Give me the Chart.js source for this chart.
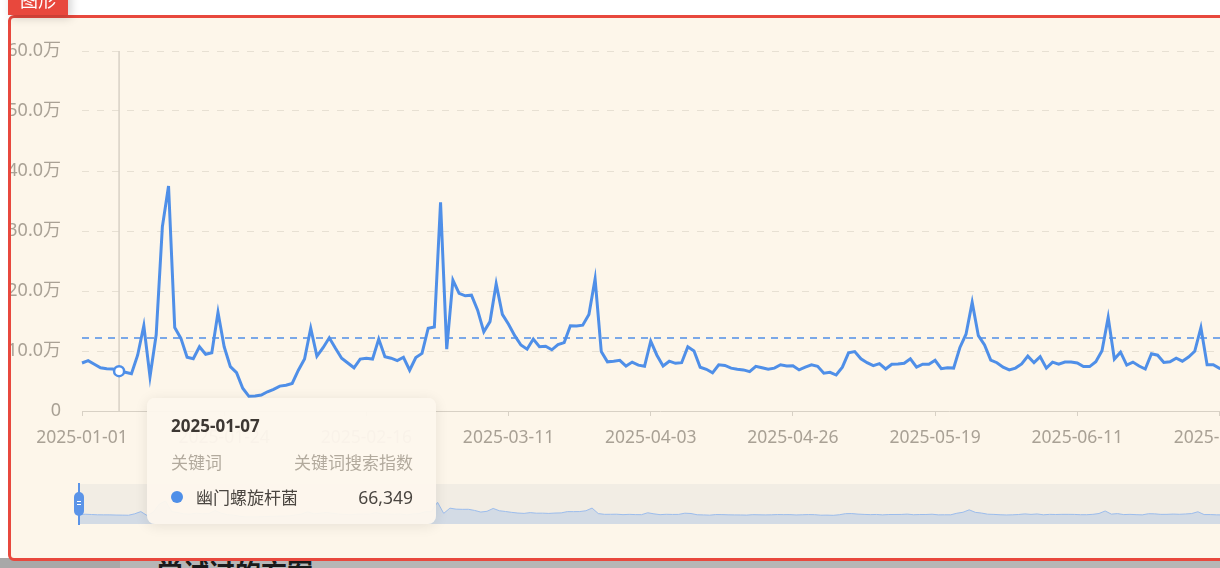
<!DOCTYPE html>
<html lang="zh-CN">
<head>
<meta charset="utf-8">
<title>关键词搜索指数</title>
<script src="https://cdn.jsdelivr.net/npm/chart.js@4.4.1/dist/chart.umd.min.js"></script>
<style>
  html, body { margin: 0; padding: 0; }
  body {
    width: 1220px; height: 568px; overflow: hidden; position: relative; background: #fff;
    font-family: "Noto Sans", "Noto Sans CJK SC", sans-serif;
  }
  .tab {
    position: absolute; left: 8px; top: -15px; width: 60px; height: 30px; z-index: 3;
    background: #e8483d; color: #fff; font-size: 18px; line-height: 30px; text-align: center;
    box-shadow: 3px 3px 10px rgba(0, 0, 0, 0.18);
  }
  .panel {
    position: absolute; left: 8px; top: 15px; width: 1260px; height: 540px; z-index: 2;
    border: 3px solid #e8483d; border-radius: 6px; background: #fdf6ea; overflow: hidden;
  }
  .main { position: absolute; left: -11px; top: 0; }
  .slider { position: absolute; left: 68px; top: 466px; width: 1200px; height: 40px; background: #f2ede4; }
  .zline { position: absolute; left: 67px; top: 465px; width: 2px; height: 42px; background: #5b94e8; }
  .zhandle {
    position: absolute; left: 63px; top: 474px; width: 10px; height: 24px; border-radius: 5px; background: #5b94e8;
  }
  .zhandle::after {
    content: ""; position: absolute; left: 3px; top: 9px; width: 4px; height: 2px;
    border-top: 1px solid #fff; border-bottom: 1px solid #fff;
  }
  .below { position: absolute; left: 0; top: 558px; width: 1220px; height: 10px; background: #b6b6b6; z-index: 0; }
  .below .side { position: absolute; left: 0; top: 0; width: 120px; height: 10px; background: #a8a8a8; }
  .note {
    position: absolute; left: 157px; top: 556px; z-index: 1;
    font-size: 26px; line-height: 30px; font-weight: bold; color: #1a1a1a;
    font-family: "Noto Sans CJK SC", sans-serif;
  }
  .tip {
    position: absolute; z-index: 5; width: 289px; box-sizing: border-box; padding: 16px 23px 15px 24px;
    background: rgba(253, 247, 237, 0.95); border-radius: 8px; box-shadow: 0 2px 14px rgba(0, 0, 0, 0.09);
    font-size: 17px; line-height: 24px; display: none;
  }
  .tip .title { font-weight: bold; color: #3d3833; }
  .tip .head { display: flex; justify-content: space-between; color: #b2aa9d; margin-top: 12px; font-family: "Noto Sans CJK SC", sans-serif; }
  .tip .row { display: flex; align-items: center; color: #4a4540; margin-top: 11px; }
  .tip .dot { width: 12px; height: 12px; border-radius: 6px; background: #4f8fe8; margin-right: 13px; }
  .tip .name { flex: 1; font-family: "Noto Sans CJK SC", sans-serif; }
  .tip .val { font-size: 17.5px; }
</style>
</head>
<body>
<div class="tab">图形</div>
<div class="panel">
  <div class="main"><canvas id="trend" width="1290" height="440"></canvas></div>
  <div class="slider"><canvas id="preview" width="1156" height="40"></canvas></div>
  <div class="zline"></div>
  <div class="zhandle"></div>
</div>
<div class="below"><div class="side"></div></div>
<div class="note">尝试过的方案</div>
<div class="tip" id="tip"></div>

<script>
const seriesName = "幽门螺旋杆菌";
const startDate = "2025-01-01";

// daily search index, one array per month
const jan = [80000, 84000, 78000, 72000, 70500, 70000, 66349, 64500, 62000, 93000,
  142000, 57000, 127000, 307000, 375000, 139000, 121000, 89500, 87000, 107000,
  94500, 97000, 164500, 107000, 74000, 64000, 38000, 24500, 25000, 26500, 32000];
const feb = [36000, 41500, 43000, 46000, 68000, 86500, 138000, 91500, 105500,
  122000, 104500, 88000, 80000, 72000, 86500, 88000, 86500, 120000, 90500,
  88000, 84000, 89500, 68000, 89000, 96000, 138000, 140000, 348000];
const mar = [103000, 218000, 196000, 192000, 193000, 168000, 132000, 149000, 212000, 161000, 144500,
  125500, 110000, 103000, 120000, 107000, 108000, 102000, 110500, 114000, 142000,
  141500, 143000, 161000, 220000, 99000, 82000, 83000, 84500, 75000, 81500];
const apr = [76500, 74500, 116500, 93000, 75000, 83000, 79500, 80500, 107000, 100000,
  73000, 69500, 63500, 77000, 76000, 71500, 69500, 68500, 65500, 74500,
  72000, 69500, 71500, 77000, 75000, 75500, 68500, 73000, 77000, 74500];
const may = [63000, 64500, 60000, 73000, 97000, 99000, 87000, 80500, 75500, 79000,
  70000, 78000, 78500, 79500, 87000, 73000, 78000, 78000, 84500, 70500,
  72000, 71500, 105500, 128000, 181000, 125500, 110000, 85000, 80500, 73000, 68500];
const jun = [71500, 78500, 91500, 80500, 90500, 71500, 81500, 78000, 81500,
  81500, 80000, 74000, 74000, 82000, 100500, 156000, 86500, 98000, 76500,
  81500, 75000, 70000, 95500, 93000, 81000, 82000, 88000, 83000, 90000, 99500];
const jul = [139000, 77000, 77000, 71000, 69000, 72000, 74000];

const values = [...jan, ...feb, ...mar, ...apr, ...may, ...jun, ...jul];

const tickLabels = ["2025-01-01", "2025-01-24", "2025-02-16", "2025-03-11", "2025-04-03",
  "2025-04-26", "2025-05-19", "2025-06-11", "2025-07-04"];

const averageLine = 121700;
const hoverDate = "2025-01-07";

// one label per day
const dates = [];
const d0 = new Date(startDate + "T00:00:00Z");
for (let i = 0; i < values.length; i++) {
  const d = new Date(d0.getTime() + i * 86400000);
  dates.push(d.toISOString().slice(0, 10));
}

const lineColor = "#4f8fe8";
const labelColor = "#a9a195";
const axisColor = "#d8d1c5";
const gridColor = "#e7e0d3";
const fontFamily = '"Noto Sans", "Noto Sans CJK SC", sans-serif';

const guides = {
  id: "guides",
  beforeDatasetsDraw(chart) {
    const { ctx, chartArea } = chart;
    ctx.save();
    const active = chart.tooltip.getActiveElements();
    if (active.length) {
      const x = active[0].element.x;
      ctx.strokeStyle = axisColor;
      ctx.lineWidth = 1.5;
      ctx.beginPath();
      ctx.moveTo(x, chartArea.top);
      ctx.lineTo(x, chartArea.bottom);
      ctx.stroke();
    }
    const y = chart.scales.y.getPixelForValue(averageLine);
    ctx.strokeStyle = lineColor;
    ctx.lineWidth = 1.5;
    ctx.setLineDash([7, 6]);
    ctx.beginPath();
    ctx.moveTo(chartArea.left, y);
    ctx.lineTo(chartArea.right, y);
    ctx.stroke();
    ctx.restore();
  },
};

function renderTooltip({ chart, tooltip }) {
  const el = document.getElementById("tip");
  if (!tooltip.dataPoints || !tooltip.dataPoints.length) {
    el.style.display = "none";
    return;
  }
  const p = tooltip.dataPoints[0];
  el.innerHTML =
    `<div class="title">${p.label}</div>` +
    `<div class="head"><span>关键词</span><span>关键词搜索指数</span></div>` +
    `<div class="row"><span class="dot"></span><span class="name">${p.dataset.label}</span>` +
    `<span class="val">${p.raw.toLocaleString("en-US")}</span></div>`;
  const rect = chart.canvas.getBoundingClientRect();
  el.style.left = rect.left + p.element.x + 28 + "px";
  el.style.top = rect.top + 380 + "px";
  el.style.display = "block";
}

const chart = new Chart(document.getElementById("trend"), {
  type: "line",
  data: {
    labels: dates,
    datasets: [{
      label: seriesName,
      data: values,
      borderColor: lineColor,
      borderWidth: 3,
      tension: 0,
      fill: false,
      pointRadius: 0,
      pointHitRadius: 0,
      pointHoverRadius: 5,
      pointHoverBorderWidth: 2.5,
      pointHoverBackgroundColor: "#ffffff",
      pointHoverBorderColor: lineColor,
    }],
  },
  options: {
    responsive: false,
    animation: false,
    events: [],
    layout: { padding: { top: 33, right: 52, left: 0, bottom: 0 } },
    scales: {
      x: {
        grid: { drawOnChartArea: false, drawTicks: true, tickLength: 5, color: axisColor },
        border: { display: true, color: axisColor },
        ticks: {
          autoSkip: false,
          maxRotation: 0,
          padding: 12,
          color: labelColor,
          font: { size: 17.5, family: fontFamily },
          callback(v) {
            const l = this.getLabelForValue(v);
            return tickLabels.includes(l) ? l : null;
          },
        },
        afterFit(scale) { scale.height = 47; },
      },
      y: {
        min: 0,
        max: 600000,
        ticks: {
          stepSize: 100000,
          padding: 21,
          color: labelColor,
          font: { size: 18, family: fontFamily },
          callback: (v) => (v === 0 ? "0" : (v / 10000).toFixed(1) + "万"),
        },
        grid: { color: gridColor, drawTicks: false },
        border: { display: false, dash: [7, 8] },
        afterFit(scale) { scale.width = 82; },
      },
    },
    plugins: {
      legend: { display: false },
      tooltip: { enabled: false, mode: "index", intersect: false, external: renderTooltip },
    },
  },
  plugins: [guides],
});

const hoverIndex = dates.indexOf(hoverDate);
const active = [{ datasetIndex: 0, index: hoverIndex }];
chart.setActiveElements(active);
const pt = chart.getDatasetMeta(0).data[hoverIndex];
chart.tooltip.setActiveElements(active, { x: pt.x, y: pt.y });
chart.render();

// data zoom preview strip
new Chart(document.getElementById("preview"), {
  type: "line",
  data: {
    labels: dates,
    datasets: [{
      data: values,
      borderColor: "#9bbcec",
      borderWidth: 1,
      backgroundColor: "#d3dbe5",
      fill: "start",
      pointRadius: 0,
      tension: 0,
    }],
  },
  options: {
    responsive: false,
    animation: false,
    events: [],
    layout: { padding: 0 },
    scales: {
      x: { display: false },
      y: { display: false, min: -131000, max: 750000 },
    },
    plugins: { legend: { display: false }, tooltip: { enabled: false } },
  },
});
</script>
</body>
</html>
